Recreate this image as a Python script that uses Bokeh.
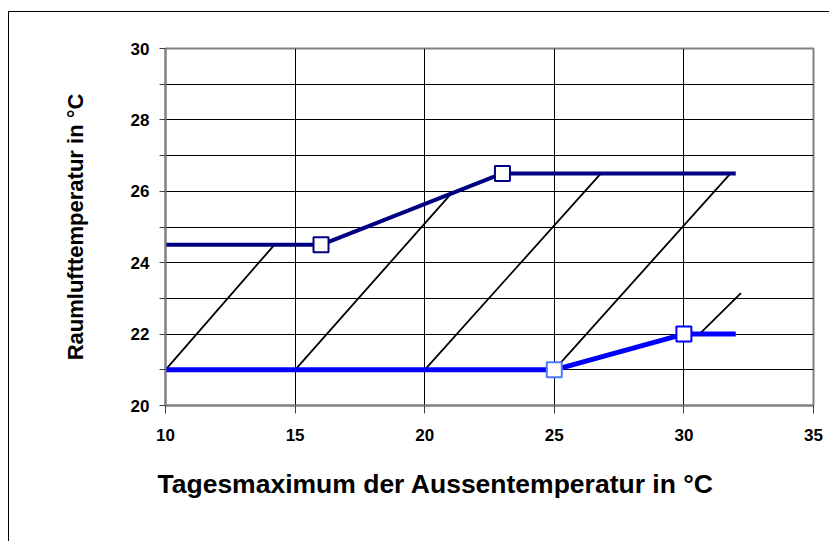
from bokeh.plotting import figure
from bokeh.models import FixedTicker, Range1d, Title
from bokeh.embed import file_html
from bokeh.resources import INLINE

# ---- data ----
x_ticks = [10, 15, 20, 25, 30, 35]
y_ticks = list(range(20, 31))
y_tick_labels = {t: (str(t) if t % 2 == 0 else "") for t in y_ticks}

upper_x = [10, 16, 23, 32]
upper_y = [24.5, 24.5, 26.5, 26.5]
upper_marker_x = [16, 23]
upper_marker_y = [24.5, 26.5]

lower_x = [10, 25, 30, 32]
lower_y = [21, 21, 22, 22]
lower_marker_x = [25, 30]
lower_marker_y = [21, 22]
lower_marker_colors = ["#4a78ff", "#0000ff"]

diag_x0 = [10, 15, 20, 25, 30.6]
diag_y0 = [21, 21, 21, 21, 22.0]
diag_x1 = [14.2, 21.1, 26.8, 31.8, 32.2]
diag_y1 = [24.5, 26.0, 26.5, 26.5, 23.15]

x_title = "Tagesmaximum der Aussentemperatur in °C"
y_title = "Raumlufttemperatur in °C"

FONT = "Liberation Sans"

p = figure(width=824, height=530, output_backend="svg", toolbar_location=None,
           x_range=Range1d(10, 35), y_range=Range1d(20, 30),
           min_border_left=156, min_border_right=20, min_border_top=36,
           min_border_bottom=137)
p.margin = (11, 0, 0, 8)
p.styles = {"border-left": "1px solid #000000", "border-top": "1px solid #000000",
            "border-right": "0px none", "border-bottom": "0px none"}

p.outline_line_color = "#808080"
p.outline_line_width = 2
p.background_fill_color = "white"
p.border_fill_color = "white"

# axes
p.xaxis.ticker = FixedTicker(ticks=x_ticks)
p.yaxis.ticker = FixedTicker(ticks=y_ticks)
p.yaxis.major_label_overrides = {t: s for t, s in y_tick_labels.items()}
for ax in (p.xaxis[0], p.yaxis[0]):
    ax.axis_line_color = "#808080"
    ax.axis_line_width = 2
    ax.major_tick_line_color = "#404040"
    ax.major_tick_line_width = 1
    ax.major_tick_in = 0
    ax.minor_tick_line_color = None
    ax.major_label_text_font = FONT
    ax.major_label_text_font_style = "bold"
    ax.major_label_text_font_size = "17px"
    ax.major_label_text_color = "#000000"
p.xaxis.major_tick_out = 8
p.xaxis.major_label_standoff = 15
p.yaxis.major_tick_out = 6
p.yaxis.major_label_standoff = 10

p.yaxis.axis_label = y_title
p.yaxis.axis_label_text_font = FONT
p.yaxis.axis_label_text_font_style = "bold"
p.yaxis.axis_label_text_font_size = "22px"
p.yaxis.axis_label_text_color = "#000000"
p.yaxis.axis_label_standoff = 40

# grid
p.xgrid.ticker = FixedTicker(ticks=x_ticks)
p.ygrid.ticker = FixedTicker(ticks=y_ticks)
p.xgrid.grid_line_color = "#000000"
p.ygrid.grid_line_color = "#000000"
p.xgrid.grid_line_width = 1
p.ygrid.grid_line_width = 1

# diagonals
p.segment(x0=diag_x0, y0=diag_y0, x1=diag_x1, y1=diag_y1,
          line_color="#000000", line_width=1.8)

# series
p.line(upper_x, upper_y, line_color="#000080", line_width=4)
p.line(lower_x, lower_y, line_color="#0000ff", line_width=5)
p.scatter(upper_marker_x, upper_marker_y, marker="square", size=15,
          fill_color="white", line_color="#000080", line_width=2)
p.scatter(lower_marker_x, lower_marker_y, marker="square", size=15,
          fill_color="white", line_color=lower_marker_colors, line_width=2)

# x title (below the axis)
p.add_layout(Title(text=x_title, align="left", offset=-8, standoff=46,
                   text_font=FONT, text_font_style="bold",
                   text_font_size="26.5px", text_color="#000000"), "below")

open("out.html", "w").write(file_html(p, INLINE))
